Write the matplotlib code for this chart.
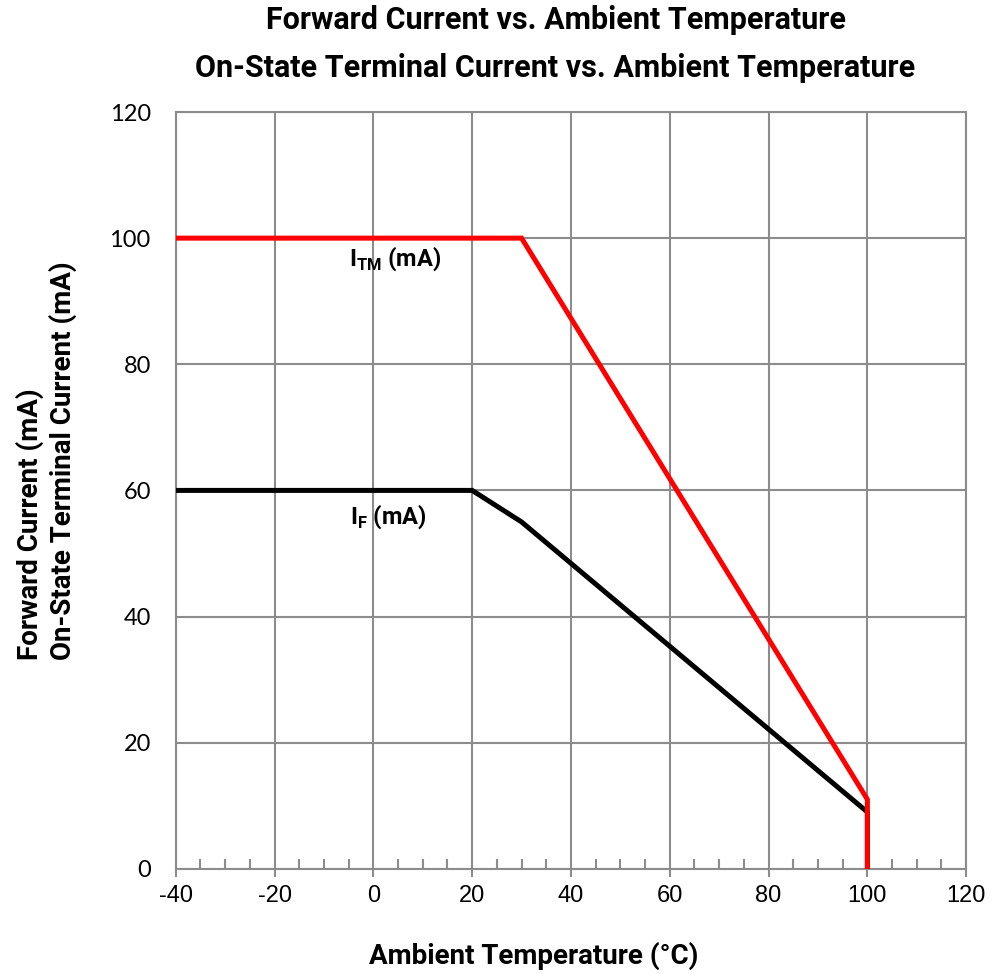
import matplotlib
matplotlib.use('Agg')
from matplotlib import pyplot as plt
from matplotlib.ticker import MultipleLocator

# 数据
temp_tm = [-40, 30, 100, 100]
itm = [100, 100, 11, 0]
temp_f = [-40, 20, 30, 100, 100]
i_f = [60, 60, 55, 9, 0]

x_ticks = [-40, -20, 0, 20, 40, 60, 80, 100, 120]
y_ticks = [0, 20, 40, 60, 80, 100, 120]

plt.rcParams['axes.unicode_minus'] = False
bold_font = ['Roboto', 'DejaVu Sans']
grid_col = '#8c8c8c'

fig = plt.figure(figsize=(9.93, 9.74), dpi=100)
ax = fig.add_axes([0.177, 0.108, 0.796, 0.777])

ax.plot(temp_f, i_f, color='black', lw=3.6, solid_joinstyle='miter', zorder=3)
ax.plot(temp_tm, itm, color='#ff0000', lw=3.6, solid_joinstyle='miter', zorder=4)

ax.set_xlim(-40, 120)
ax.set_ylim(0, 120)
ax.set_xticks(x_ticks)
ax.set_yticks(y_ticks)
ax.xaxis.set_minor_locator(MultipleLocator(5))
ax.grid(True, which='major', color=grid_col, lw=1.5)
ax.set_axisbelow(True)
for s in ax.spines.values():
    s.set_color(grid_col)
    s.set_linewidth(1.5)

ax.tick_params(axis='x', which='major', direction='out', length=6, width=1.5,
               color=grid_col, labelsize=17, pad=6)
ax.tick_params(axis='x', which='minor', direction='in', length=7, width=1.5,
               color=grid_col)
ax.tick_params(axis='y', which='major', length=0, labelsize=17, pad=18)
for t in ax.get_xticklabels():
    t.set_family(['Liberation Sans', 'DejaVu Sans'])
for t in ax.get_yticklabels():
    t.set_family(['Lato', 'DejaVu Sans'])

# 曲线标注
ax.text(4.4, 96.8, r'I$_{\mathregular{TM}}$ (mA)', ha='center', va='center',
        fontsize=17, fontweight='bold', family=bold_font)
ax.text(3, 55.8, r'I$_{\mathregular{F}}$ (mA)', ha='center', va='center',
        fontsize=17, fontweight='bold', family=bold_font)

fig.text(0.560, 0.979, 'Forward Current vs. Ambient Temperature', ha='center', va='center',
         fontsize=22, fontweight='bold', family=bold_font)
fig.text(0.559, 0.930, 'On-State Terminal Current vs. Ambient Temperature', ha='center',
         va='center', fontsize=22, fontweight='bold', family=bold_font)

fig.text(0.537, 0.019, 'Ambient Temperature (°C)', ha='center', va='center',
         fontsize=20, fontweight='bold', family=bold_font)
fig.text(0.030, 0.322, 'Forward Current (mA)', ha='center', va='bottom', rotation=90,
         fontsize=20, fontweight='bold', family=bold_font)
fig.text(0.063, 0.322, 'On-State Terminal Current (mA)', ha='center', va='bottom',
         rotation=90, fontsize=20, fontweight='bold', family=bold_font)

plt.savefig('out.png', dpi=100)
